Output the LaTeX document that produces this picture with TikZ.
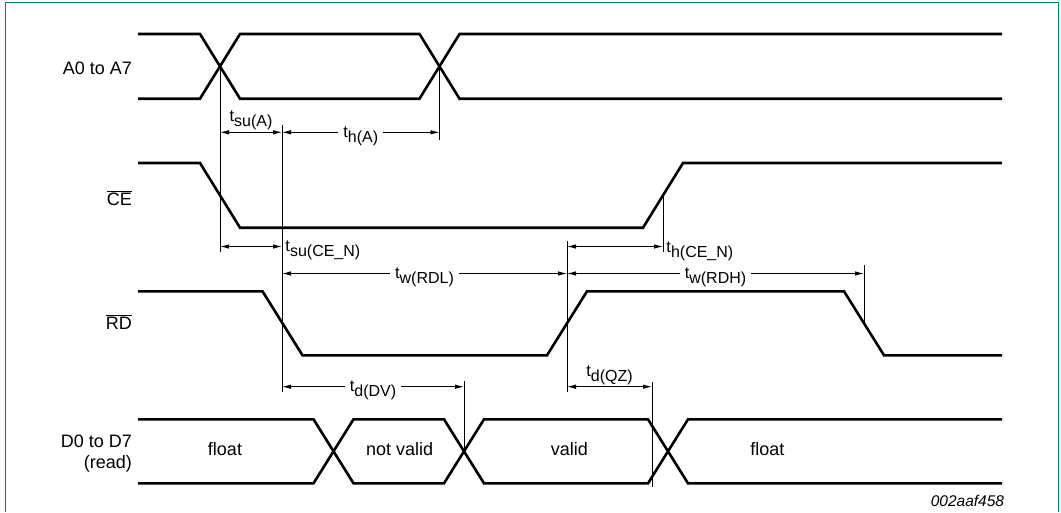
\documentclass[tikz,border=0pt]{standalone}
\usepackage{fontspec}
\setmainfont{Liberation Sans}
\usetikzlibrary{arrows.meta}
\definecolor{framecol}{RGB}{0,120,140}
\tikzset{sig/.style={line width=2.6pt, line join=miter}}
\tikzset{guide/.style={line width=0.9pt}}
\tikzset{dimline/.style={line width=0.9pt,
         {Latex[length=9pt,width=4.5pt]}-{Latex[length=9pt,width=4.5pt]}}}
\tikzset{signame/.style={anchor=base east, inner sep=0pt, font=\fontsize{18}{20}\selectfont}}
\tikzset{state/.style={anchor=base, inner sep=0pt, font=\fontsize{18}{20}\selectfont}}
\tikzset{onlabel/.style={midway, anchor=base, yshift=-5pt, fill=white, inner xsep=5pt, inner ysep=1pt,
         font=\fontsize{16.5}{19}\selectfont}}
\tikzset{uplabel/.style={midway, anchor=base, yshift=10.5pt, inner sep=0pt,
         font=\fontsize{16.5}{19}\selectfont}}
\tikzset{sidelabel/.style={anchor=base west, inner sep=0pt, xshift=3pt,
         font=\fontsize{16.5}{19}\selectfont}}
\newcommand\tsub[1]{t\raisebox{-5pt}{\fontsize{16}{16}\selectfont #1}}

\begin{document}
\begin{tikzpicture}[x=1pt,y=-1pt]
  \useasboundingbox (0,0) rectangle (1061,512);
  % frame, open at the bottom
  \draw[framecol, line width=1.6pt] (5.5,512) -- (5.5,2.5) -- (1058.5,2.5) -- (1058.5,512);

  % signal names
  \node[signame] (nA) at (132,74) {A0 to A7};
  \node[signame] (nCE) at (132,205.3) {$\overline{\mbox{CE}}$};
  \node[signame] (nRD) at (132,329.3) {$\overline{\mbox{RD}}$};
  \node[signame] (nD) at (132,447.3) {D0 to D7};
  \node[signame] (nRead) at (132,468.5) {(read)};

  % waveforms
  \draw[sig] (138,34) -- (200,34) -- (240,98.7) -- (419.5,98.7) -- (459.5,34) -- (1002,34);
  \draw[sig] (138,98.7) -- (200,98.7) -- (240,34) -- (419.5,34) -- (459.5,98.7) -- (1002,98.7);
  \draw[sig] (138,163) -- (200,163) -- (240,227.7) -- (643,227.7) -- (683,163) -- (1002,163);
  \draw[sig] (138,291.3) -- (262.5,291.3) -- (302.5,355.3) -- (547,355.3) -- (587,291.3)
     -- (844,291.3) -- (884,355.3) -- (1002,355.3);
  \draw[sig] (138,419.3) -- (313.5,419.3) -- (353.5,483.3) -- (444,483.3) -- (484,419.3)
     -- (648,419.3) -- (688,483.3) -- (1002,483.3);
  \draw[sig] (138,483.3) -- (313.5,483.3) -- (353.5,419.3) -- (444,419.3) -- (484,483.3)
     -- (648,483.3) -- (688,419.3) -- (1002,419.3);

  % data states
  \node[state] (float1) at (225,455.7) {float};
  \node[state] (notvalid) at (399.7,455.7) {not valid};
  \node[state] (valid) at (569.3,455.7) {valid};
  \node[state] (float2) at (767.3,455.7) {float};

  % time marks
  \coordinate (tA) at (220,0);
  \coordinate (tRD1) at (282,0);
  \coordinate (tA2) at (439.5,0);
  \coordinate (tRD2) at (567,0);
  \coordinate (tCE) at (663,0);
  \coordinate (tRD3) at (864,0);
  \coordinate (tDV) at (464,0);
  \coordinate (tQZ) at (652,0);
  \foreach \m/\ya/\yb in {tA/66.3/252, tRD1/125/392, tA2/66.3/140, tRD2/241/392,
                          tCE/195.3/252, tRD3/265/323.3, tDV/381/451.3, tQZ/382.3/487.3}
    \draw[guide] (\m |- 0,\ya) -- (\m |- 0,\yb);

  % timing arrows
  \draw[dimline] (tA |- 0,132.3) -- node[uplabel] (lsuA) {\tsub{su(A)}} (tRD1 |- 0,132.3);
  \draw[dimline] (tRD1 |- 0,132.3) -- node[onlabel] (lhA) {\tsub{h(A)}} (tA2 |- 0,132.3);
  \draw[dimline] (tA |- 0,246.5) -- (tRD1 |- 0,246.5)
     node[sidelabel, yshift=-5pt] (lsuCE) {\tsub{su(CE\_N)}};
  \draw[dimline] (tRD2 |- 0,246.5) -- (tCE |- 0,246.5)
     node[sidelabel, yshift=-5.5pt] (lhCE) {\tsub{h(CE\_N)}};
  \draw[dimline] (tRD1 |- 0,273.5) -- node[onlabel] (lwL) {\tsub{w(RDL)}} (tRD2 |- 0,273.5);
  \draw[dimline] (tRD2 |- 0,273.5) -- node[onlabel] (lwH) {\tsub{w(RDH)}} (tRD3 |- 0,273.5);
  \draw[dimline] (tRD1 |- 0,386.7) -- node[onlabel] (ldDV) {\tsub{d(DV)}} (tDV |- 0,386.7);
  \draw[dimline] (tRD2 |- 0,386.7) -- node[uplabel] (ldQZ) {\tsub{d(QZ)}} (tQZ |- 0,386.7);

  \node[anchor=base east, inner sep=0pt, font=\fontsize{15.5}{17}\selectfont\itshape] (code)
     at (1004.3,506.5) {002aaf458};
\end{tikzpicture}
\end{document}
